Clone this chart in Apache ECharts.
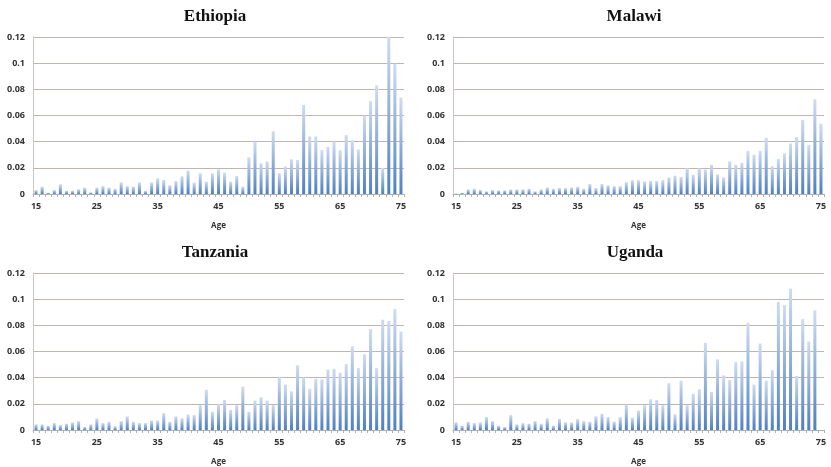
<!DOCTYPE html>
<html><head><meta charset="utf-8">
<script src="https://cdn.jsdelivr.net/npm/echarts@6/dist/echarts.min.js"></script>
<style>html,body{margin:0;padding:0;background:#fff}#c{width:831px;height:467px}</style>
</head><body><div id="c"></div><script>
const ages = ['15','16','17','18','19','20','21','22','23','24','25','26','27','28','29','30','31','32','33','34','35','36','37','38','39','40','41','42','43','44','45','46','47','48','49','50','51','52','53','54','55','56','57','58','59','60','61','62','63','64','65','66','67','68','69','70','71','72','73','74','75'];
const yTicks = [0, 0.02, 0.04, 0.06, 0.08, 0.1, 0.12];
const ethiopia = [0.003,0.0056,0.001,0.003,0.0074,0.0025,0.0025,0.0036,0.0048,0.0013,0.0048,0.006,0.0048,0.004,0.0089,0.006,0.0056,0.0089,0.0023,0.0089,0.012,0.0107,0.0066,0.0099,0.0135,0.018,0.0086,0.0158,0.0094,0.0158,0.0188,0.0163,0.0094,0.0137,0.0056,0.028,0.040,0.0234,0.025,0.048,0.016,0.021,0.0265,0.026,0.068,0.044,0.044,0.0335,0.036,0.040,0.0335,0.045,0.041,0.034,0.060,0.071,0.083,0.020,0.12,0.0996,0.0737];
const malawi = [0.0005,0.001,0.0035,0.004,0.003,0.002,0.003,0.0028,0.0028,0.0035,0.0035,0.0035,0.004,0.002,0.0035,0.005,0.004,0.0045,0.0045,0.005,0.0055,0.004,0.0076,0.0045,0.0076,0.0066,0.006,0.006,0.009,0.0106,0.0106,0.0096,0.01,0.01,0.0106,0.0127,0.014,0.013,0.0197,0.0147,0.0197,0.0187,0.0223,0.015,0.0127,0.025,0.0223,0.0238,0.033,0.030,0.033,0.043,0.0213,0.0268,0.031,0.0385,0.0435,0.0567,0.0375,0.0724,0.0537];
const tanzania = [0.0043,0.0043,0.0033,0.0053,0.0038,0.0048,0.0058,0.0068,0.0023,0.0043,0.0089,0.0053,0.0063,0.0028,0.0068,0.0104,0.0063,0.0053,0.0053,0.0073,0.0073,0.0129,0.0063,0.0104,0.0089,0.0119,0.0114,0.019,0.0306,0.0139,0.0195,0.023,0.0154,0.019,0.0332,0.0139,0.0225,0.025,0.0225,0.019,0.0408,0.0347,0.0296,0.0494,0.0403,0.0316,0.0392,0.0387,0.0463,0.0468,0.0438,0.0504,0.064,0.0473,0.058,0.0772,0.0473,0.0843,0.0833,0.0924,0.0752];
const uganda = [0.0058,0.0033,0.0063,0.0053,0.0058,0.0099,0.0068,0.0033,0.0023,0.0114,0.0043,0.0053,0.0048,0.0068,0.0048,0.0089,0.0033,0.0084,0.0058,0.0058,0.0084,0.0068,0.0063,0.0104,0.0124,0.0099,0.0063,0.0099,0.0195,0.0094,0.0149,0.019,0.0235,0.023,0.019,0.0357,0.0119,0.0377,0.019,0.0276,0.0311,0.0666,0.0291,0.0539,0.0418,0.0382,0.0519,0.0524,0.0818,0.0347,0.0661,0.0377,0.0458,0.098,0.0954,0.108,0.0413,0.0848,0.0676,0.0914,0];

const panels = [
  {name:'Ethiopia', data:ethiopia, left:33, top:37, tx:210, ty:3},
  {name:'Malawi', data:malawi, left:453, top:37, tx:629, ty:3},
  {name:'Tanzania', data:tanzania, left:33, top:273, tx:210, ty:239},
  {name:'Uganda', data:uganda, left:453, top:273, tx:630, ty:239}
];
const lab = {fontFamily:'Open Sans', fontWeight:'bold', fontSize:9, color:'#333'};
const gridColor = '#c2b5b0';
const chart = echarts.init(document.getElementById('c'), null, {renderer:'canvas'});
const option = {
  animation:false,
  backgroundColor:'#fff',
  title: panels.map(p => ({text:p.name, left:p.tx, top:p.ty, textAlign:'center',
    textStyle:{fontFamily:'Liberation Serif', fontWeight:'bold', fontSize:17, color:'#111'}})),
  grid: panels.map(p => ({left:p.left, top:p.top, width:371, height:157})),
  xAxis: panels.map((p,i) => ({type:'category', gridIndex:i, data:ages, boundaryGap:true,
    axisLine:{show:true, lineStyle:{color:'#b0b0b0', width:1}},
    axisTick:{show:true, interval:0, length:3, lineStyle:{color:'#b0b0b0'}},
    axisLabel:Object.assign({interval:9, margin:8}, lab),
    name:'Age', nameLocation:'middle', nameGap:28,
    nameTextStyle:{fontFamily:'Open Sans', fontWeight:'bold', fontSize:8, color:'#333'}})),
  yAxis: panels.map((p,i) => ({type:'value', gridIndex:i, min:yTicks[0], max:yTicks[yTicks.length-1], interval:0.02,
    axisLine:{show:true, lineStyle:{color:'#c8c8c8'}}, axisTick:{show:false},
    splitLine:{show:true, lineStyle:{color:gridColor, width:1.2}},
    axisLabel:Object.assign({margin:8}, lab)})),
  series: panels.map((p,i) => ({type:'bar', name:p.name, xAxisIndex:i, yAxisIndex:i, data:p.data, barWidth:3,
    itemStyle:{color:new echarts.graphic.LinearGradient(0,0,0,1,[{offset:0,color:'#cfdcf0'},{offset:1,color:'#4f7fc2'}])}}))
};
chart.setOption(option);
</script></body></html>
